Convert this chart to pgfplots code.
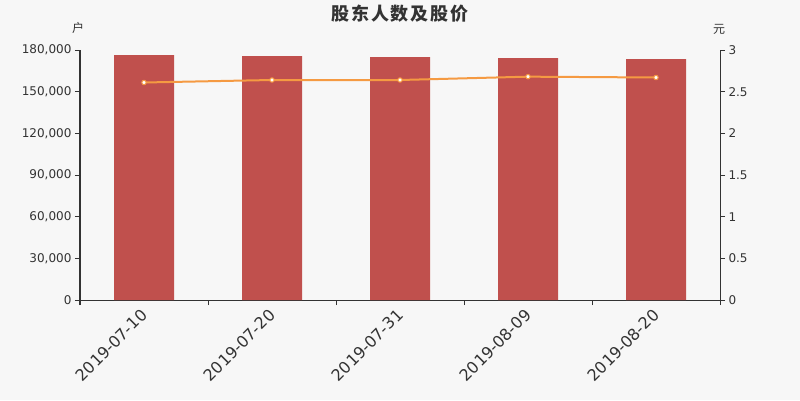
\documentclass[border=0pt]{standalone}
\usepackage{pgfplots}
\pgfplotsset{compat=1.18}
\usepackage{fontspec}
\setmainfont{DejaVu Sans}
\newfontfamily\cjk{Noto Sans CJK SC}
\newfontfamily\cjktitle[LetterSpace=10]{Noto Sans CJK SC}
\definecolor{bg}{HTML}{F7F7F7}
\definecolor{barred}{HTML}{C0504D}
\definecolor{lineor}{HTML}{F59A42}
\definecolor{txt}{HTML}{333333}

\pgfplotsset{
  common/.style={
    at={(80pt,100pt)}, anchor=south west,
    scale only axis, width=640pt, height=250pt,
    xmin=-0.5, xmax=4.5, clip=false,
    axis line style={txt, line width=1pt, -},
    tick align=outside,
    major tick length=5pt, minor tick length=5pt,
    tick style={txt, line width=1pt},
    ticklabel style={text=txt},
    yticklabel style={font=\fontsize{12}{14}\selectfont},
    /pgf/number format/assume math mode=true,
  }
}

\begin{document}
\begin{tikzpicture}
\fill[bg] (0,0) rectangle (800pt,400pt);
\useasboundingbox (0,0) rectangle (800pt,400pt);
\node[font=\cjktitle\bfseries\fontsize{18}{18}\selectfont, text=txt] at (400pt,386.5pt) {股东人数及股价};

\begin{axis}[
  common,
  ymin=0, ymax=180000,
  axis x line*=bottom, axis y line*=left,
  tick align=outside,
  xtick={0,1,2,3,4},
  xticklabels={2019-07-10,2019-07-20,2019-07-31,2019-08-09,2019-08-20},
  minor xtick={-0.5,0.5,1.5,2.5,3.5,4.5},
  every major x tick/.append style={draw=none},
  xticklabel style={xshift=-4pt, rotate=45, anchor=north east, inner sep=2pt,
    font=\fontsize{16}{18}\selectfont},
  ytick={0,30000,60000,90000,120000,150000,180000},
  scaled y ticks=false,
  yticklabel style={/pgf/number format/.cd, fixed, 1000 sep={,}},
]
\addplot[ybar, bar width=60pt, fill=barred, draw=none]
  coordinates {(0,176400)(1,175680)(2,174960)(3,174240)(4,173520)};
\node[font=\cjk\fontsize{12}{12}\selectfont, text=txt] at (rel axis cs:0,1) [xshift=-2pt, yshift=22pt] {户};
\end{axis}

\begin{axis}[
  common,
  ymin=0, ymax=3,
  axis x line=none, axis y line*=right,
  tick align=outside,
  ytick={0,0.5,1,1.5,2,2.5,3},
]
\addplot[lineor, line width=2pt, mark=*, mark size=2.2pt,
  mark options={fill=white, draw=lineor, line width=1pt}]
  coordinates {(0,2.61)(1,2.64)(2,2.64)(3,2.68)(4,2.67)};
\node[font=\cjk\fontsize{12}{12}\selectfont, text=txt] at (rel axis cs:1,1) [xshift=-1pt, yshift=21pt] {元};
\end{axis}
\end{tikzpicture}
\end{document}
